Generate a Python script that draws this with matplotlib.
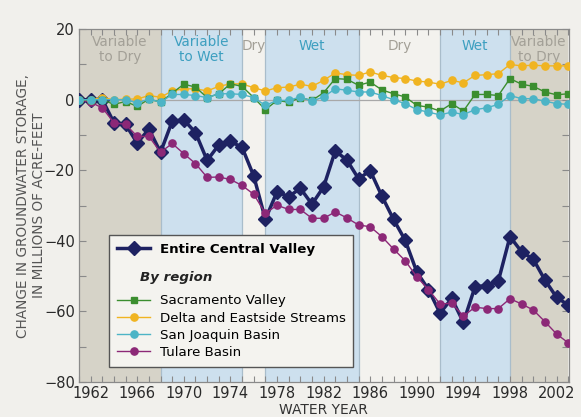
import numpy as np
import matplotlib
matplotlib.use("Agg")
import matplotlib.pyplot as plt
from matplotlib.lines import Line2D
from matplotlib.ticker import MultipleLocator

plt.rcParams['font.family'] = ['Liberation Sans Narrow', 'DejaVu Sans']

# water years, one point per year
years = list(range(1961, 2004))

central_valley = [0, 0, 0, -6.5, -7.0, -12.3, -8.3, -14.9, -6.1, -5.7,
                  -9.3, -17.2, -12.8, -11.8, -13.5, -21.6, -33.9, -26.1, -27.5, -25.1,
                  -29.6, -24.7, -14.5, -17.1, -22.4, -20.1, -27.3, -33.9, -39.8, -48.8,
                  -53.8, -60.5, -56.3, -63.1, -53.0, -52.7, -51.4, -38.8, -43.1, -45.2,
                  -51.1, -56.0, -58.2]
sacramento = [0, 0, 0, -1.3, -0.5, -1.9, 0.2, -0.7, 1.9, 4.4,
              3.6, 0.6, 1.7, 4.5, 3.8, 0.6, -2.8, -0.2, -0.7, 0.6,
              -0.2, 2.0, 6.0, 5.8, 4.1, 5.0, 2.8, 1.7, 0.8, -1.6,
              -2.1, -3.2, -1.1, -3.2, 1.5, 1.5, 1.2, 6.0, 4.4, 3.8,
              2.2, 1.4, 1.7]
delta_eastside = [0, 0, 0.6, 0, 0.2, 0.2, 1.2, 0.7, 2.5, 3.1,
                  3.1, 2.5, 3.8, 4.5, 4.5, 3.4, 2.5, 3.4, 3.6, 4.4,
                  3.8, 5.5, 7.6, 7.1, 6.9, 7.9, 6.9, 6.3, 6.0, 5.3,
                  5.0, 4.4, 5.5, 4.8, 6.9, 7.1, 7.4, 10.0, 9.6, 9.8,
                  9.6, 9.6, 9.6]
san_joaquin = [0, 0, 0, 0, 0, -0.9, 0.2, -0.7, 1.5, 1.5,
               1.2, 0.6, 1.7, 1.7, 1.5, 0.6, -1.6, -0.2, -0.2, 0.8,
               -0.4, 0.8, 3.1, 2.7, 2.2, 2.2, 1.2, 0.0, -1.1, -2.8,
               -3.5, -4.3, -3.5, -4.2, -2.8, -2.3, -1.3, 1.2, 0.3, 0.3,
               -0.4, -1.1, -1.3]
tulare = [0, -0.7, -2.3, -6.5, -7.0, -10.4, -10.4, -14.9, -12.4, -15.3,
          -18.1, -22.0, -21.9, -22.6, -24.3, -26.8, -32.2, -29.9, -31.1, -31.1,
          -33.6, -33.6, -31.8, -33.5, -35.5, -36.0, -38.8, -42.3, -45.6, -50.2,
          -53.8, -57.9, -57.7, -61.3, -58.8, -59.2, -59.2, -56.4, -57.9, -59.6,
          -62.9, -66.4, -68.9]

# climate periods
period_edges = [1961, 1968, 1975, 1977, 1985, 1992, 1998, 2003]
period_names = ['Variable\nto Dry', 'Variable\nto Wet', 'Dry', 'Wet', 'Dry', 'Wet', 'Variable\nto Dry']
period_kind = ['vdry', 'wet', 'dry', 'wet', 'dry', 'wet', 'vdry']

band_fill = {'vdry': '#d6d3c8', 'wet': '#cde0ee', 'dry': '#f3f2ee'}
band_text = {'vdry': '#a3a097', 'wet': '#3d9fc0', 'dry': '#a3a097'}

bg = '#f1f0ec'
fig = plt.figure(figsize=(5.81, 4.17), dpi=100, facecolor=bg)
ax = fig.add_axes([0.136, 0.084, 0.843, 0.846])
ax.set_facecolor(bg)

for i, kind in enumerate(period_kind):
    x0, x1 = period_edges[i], period_edges[i + 1]
    ax.axvspan(x0, x1, color=band_fill[kind], zorder=0, lw=0)
    nm = period_names[i]
    ax.text((x0 + x1) / 2, 14.2 if '\n' in nm else 15.2, nm, ha='center', va='center',
            color=band_text[kind], fontsize=9.8, linespacing=1.1, zorder=1)
for e in period_edges[1:-1]:
    ax.axvline(e, color='#a9bdcb', lw=0.9, zorder=0.5)

ax.axhline(0, color='#a8a8a8', lw=0.9, zorder=0.6)

navy = '#1e2262'
green = '#3b8e2f'
yellow = '#f0b421'
teal = '#4cb4c6'
purple = '#8c2877'

ax.plot(years, central_valley, color=navy, lw=2.5, marker='D', ms=6.8, zorder=3)
ax.plot(years, tulare, color=purple, lw=1.0, marker='o', ms=5.2, zorder=4)
ax.plot(years, delta_eastside, color=yellow, lw=1.0, marker='o', ms=5.2, zorder=4)
ax.plot(years, sacramento, color=green, lw=1.0, marker='s', ms=4.8, zorder=5)
ax.plot(years, san_joaquin, color=teal, lw=1.0, marker='o', ms=5.2, zorder=6)

ax.set_xlim(1961, 2003.05)
ax.set_ylim(-80, 20)
ax.set_xticks(range(1962, 2003, 4))
ax.xaxis.set_minor_locator(MultipleLocator(1))
ax.set_yticks(range(-80, 21, 20))
ax.yaxis.set_minor_locator(MultipleLocator(10))
ax.tick_params(axis='both', which='both', direction='in', colors='#8a8a8a',
               labelcolor='#2a2a2a', labelsize=10.5, top=True, right=True)
ax.tick_params(axis='x', which='both', length=4, width=0.8, pad=3)
ax.tick_params(axis='y', which='both', length=5, width=0.8, pad=3)
for s in ax.spines.values():
    s.set_color('#8a8a8a')
    s.set_linewidth(0.9)

ax.set_ylabel('CHANGE IN GROUNDWATER STORAGE,\nIN MILLIONS OF ACRE-FEET',
              color='#555555', fontsize=9.8, labelpad=-1.5, linespacing=1.15)
fig.text(323 / 581, 1 - 414 / 417, 'WATER YEAR', ha='center', va='baseline',
         color='#333333', fontsize=10)

# legend
blank = Line2D([], [], linestyle='none')
handles = [
    Line2D([], [], color=navy, lw=2.5, marker='D', ms=6.8),
    blank, blank,
    Line2D([], [], color=green, lw=1.0, marker='s', ms=4.8),
    Line2D([], [], color=yellow, lw=1.0, marker='o', ms=5.2),
    Line2D([], [], color=teal, lw=1.0, marker='o', ms=5.2),
    Line2D([], [], color=purple, lw=1.0, marker='o', ms=5.2),
]
labels = ['Entire Central Valley', ' ', ' ', 'Sacramento Valley',
          'Delta and Eastside Streams', 'San Joaquin Basin', 'Tulare Basin']
leg = ax.legend(handles, labels, loc='upper left', bbox_to_anchor=(0.061, 0.418),
                frameon=True, fancybox=False, edgecolor='#555555', facecolor='#f4f3ef',
                framealpha=1, fontsize=9.6, handlelength=2.5, handletextpad=0.7,
                labelspacing=0.32, borderpad=0.6, borderaxespad=0)
leg.get_frame().set_linewidth(1.0)
leg.get_texts()[0].set_fontweight('bold')
leg.set_zorder(10)
ax.text(0.124, 0.297, 'By region', transform=ax.transAxes, fontsize=9.6,
        fontweight='bold', fontstyle='italic', color='#222222', va='center', zorder=11)

fig.savefig('out.png', dpi=100, facecolor=bg)
